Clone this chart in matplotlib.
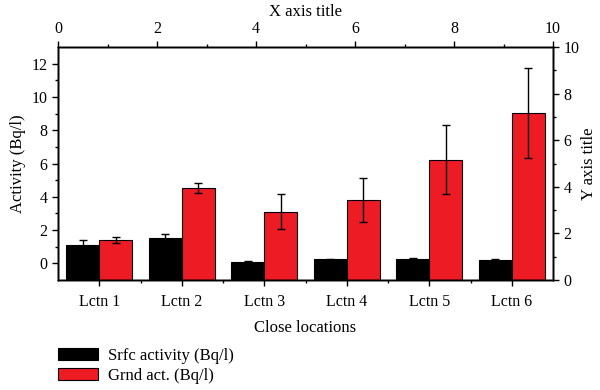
import matplotlib
matplotlib.use("Agg")
import matplotlib.pyplot as plt
from matplotlib.ticker import MultipleLocator, FixedLocator

plt.rcParams["font.family"] = ["Liberation Serif", "DejaVu Serif"]

locations = ["Lctn 1", "Lctn 2", "Lctn 3", "Lctn 4", "Lctn 5", "Lctn 6"]
srfc = [1.12, 1.54, 0.10, 0.24, 0.28, 0.20]
srfc_err = [0.27, 0.25, 0.03, 0.05, 0.07, 0.06]
grnd = [1.40, 4.54, 3.10, 3.80, 6.24, 9.04]
grnd_err = [0.18, 0.30, 1.06, 1.34, 2.10, 2.70]

red = "#ED1C24"
base = -1  # bars start at the bottom of the axis
w = 0.4
x = range(1, len(locations) + 1)

fig = plt.figure(figsize=(6, 3.9), dpi=100)
ax = fig.add_axes([58 / 600, 1 - 280 / 390, 495 / 600, 233 / 390])

ax.bar([i - w / 2 for i in x], [v - base for v in srfc], w, bottom=base,
       color="black", edgecolor="black", linewidth=0.8, label="Srfc activity (Bq/l)")
ax.bar([i + w / 2 for i in x], [v - base for v in grnd], w, bottom=base,
       color=red, edgecolor="black", linewidth=0.8, label="Grnd act. (Bq/l)")
ax.errorbar([i - w / 2 for i in x], srfc, yerr=srfc_err, fmt="none",
            ecolor="black", elinewidth=1, capsize=3, capthick=1)
ax.errorbar([i + w / 2 for i in x], grnd, yerr=grnd_err, fmt="none",
            ecolor="black", elinewidth=1, capsize=3, capthick=1)

ax.set_xlim(0.5, 6.5)
ax.set_ylim(-1, 13)
ax.set_xticks(list(x))
ax.set_xticklabels(locations)
ax.xaxis.set_minor_locator(FixedLocator([1.5, 2.5, 3.5, 4.5, 5.5]))
ax.yaxis.set_major_locator(FixedLocator([0, 2, 4, 6, 8, 10, 12]))
ax.yaxis.set_minor_locator(FixedLocator([1, 3, 5, 7, 9, 11]))
ax.set_xlabel("Close locations", fontsize=12, labelpad=7)
ax.set_ylabel("Activity (Bq/l)", fontsize=12, labelpad=4)

ax_top = ax.twiny()
ax_top.set_xlim(0, 10)
ax_top.xaxis.set_major_locator(MultipleLocator(2))
ax_top.xaxis.set_minor_locator(MultipleLocator(1))
ax_top.set_xlabel("X axis title", fontsize=12, labelpad=3)

ax_right = ax.twinx()
ax_right.set_ylim(0, 10)
ax_right.yaxis.set_major_locator(MultipleLocator(2))
ax_right.yaxis.set_minor_locator(MultipleLocator(1))
ax_right.set_ylabel("Y axis title", fontsize=12, labelpad=1)

for a in (ax, ax_top, ax_right):
    for s in a.spines.values():
        s.set_linewidth(1)
    a.tick_params(which="major", direction="out", length=4, width=1, labelsize=11.5)
    a.tick_params(which="minor", direction="out", length=2.5, width=1)
ax.tick_params(axis="x", which="major", pad=6)

handles, labels = ax.get_legend_handles_labels()
fig.legend(handles, labels, loc="upper left", bbox_to_anchor=(58 / 600, 1 - 348 / 390),
           frameon=False, borderpad=0, borderaxespad=0, handlelength=2.4,
           handleheight=0.75, handletextpad=0.6, labelspacing=0.25, fontsize=12)

fig.savefig("out.png", dpi=100)
